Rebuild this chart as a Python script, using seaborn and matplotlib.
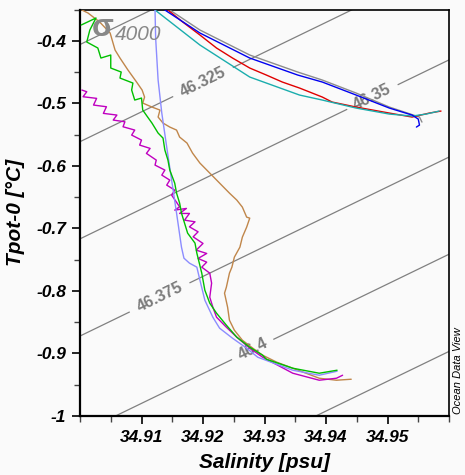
import numpy as np
import pandas as pd
import matplotlib
matplotlib.use("Agg")
import matplotlib.pyplot as plt
import seaborn as sns
from matplotlib.ticker import MultipleLocator, FuncFormatter

# ---------------- data ----------------
gray_S = [34.9146, 34.9195, 34.9276, 34.9354, 34.9394, 34.9449, 34.9503, 34.9552, 34.9556]
gray_T = [-0.3508, -0.3828, -0.4228, -0.4500, -0.4628, -0.4836, -0.5060, -0.5220, -0.5300]

red_S = [34.9143, 34.9167, 34.9195, 34.9222, 34.9248, 34.9276, 34.9303, 34.9329, 34.9357,
         34.9394, 34.9410, 34.9449, 34.9503, 34.9540, 34.9568, 34.9587]
red_T = [-0.3508, -0.3700, -0.3908, -0.4116, -0.4276, -0.4436, -0.4548, -0.4660, -0.4756,
         -0.4900, -0.4980, -0.5060, -0.5156, -0.5220, -0.5156, -0.5124]

cyan_S = [34.9122, 34.9195, 34.9276, 34.9357, 34.9394, 34.9449, 34.9503, 34.9540, 34.9563, 34.9584]
cyan_T = [-0.3508, -0.4068, -0.4580, -0.4868, -0.4948, -0.5076, -0.5172, -0.5204, -0.5172, -0.5124]

blue_S = [34.9138, 34.9195, 34.9276, 34.9354, 34.9394, 34.9449, 34.9503, 34.9540, 34.9550, 34.9552, 34.9547]
blue_T = [-0.3508, -0.3876, -0.4276, -0.4548, -0.4660, -0.4868, -0.5076, -0.5188, -0.5252, -0.5348, -0.5380]

brown_S = [34.9003, 34.9013, 34.9032, 34.9049, 34.9057, 34.9065, 34.9078, 34.9092, 34.9101, 34.9105,
           34.9102, 34.9117, 34.9130, 34.9127, 34.9135, 34.9146, 34.9157, 34.9162, 34.9174, 34.9183,
           34.9195, 34.9211, 34.9227, 34.9243, 34.9255, 34.9264, 34.9271, 34.9276, 34.9271, 34.9264,
           34.9260, 34.9251, 34.9247, 34.9243, 34.9238, 34.9235, 34.9240, 34.9243, 34.9251, 34.9264,
           34.9281, 34.9297, 34.9320, 34.9346, 34.9389, 34.9417, 34.9441]
brown_T = [-0.3508, -0.3556, -0.3700, -0.3876, -0.4148, -0.4276, -0.4468, -0.4660, -0.4788, -0.4900,
           -0.4996, -0.5060, -0.5108, -0.5220, -0.5316, -0.5380, -0.5428, -0.5540, -0.5636, -0.5796,
           -0.5956, -0.6116, -0.6276, -0.6436, -0.6548, -0.6660, -0.6820, -0.6836, -0.6980, -0.7140,
           -0.7300, -0.7460, -0.7620, -0.7716, -0.7940, -0.8036, -0.8260, -0.8468, -0.8628, -0.8788,
           -0.8916, -0.9028, -0.9140, -0.9236, -0.9396, -0.9428, -0.9412]

magenta_S = [34.9003, 34.9011, 34.9005, 34.9027, 34.9022, 34.9043, 34.9038, 34.9060, 34.9054, 34.9073,
             34.9070, 34.9089, 34.9084, 34.9100, 34.9097, 34.9114, 34.9108, 34.9124, 34.9122, 34.9138,
             34.9133, 34.9146, 34.9141, 34.9154, 34.9149, 34.9162, 34.9154, 34.9173, 34.9162, 34.9178,
             34.9170, 34.9187, 34.9178, 34.9192, 34.9184, 34.9200, 34.9189, 34.9206, 34.9192, 34.9206,
             34.9198, 34.9211, 34.9214, 34.9211, 34.9216, 34.9222, 34.9238, 34.9255, 34.9276, 34.9297,
             34.9346, 34.9389, 34.9417, 34.9427]
magenta_T = [-0.4788, -0.4815, -0.4895, -0.4921, -0.5028, -0.5055, -0.5161, -0.5188, -0.5268, -0.5295,
             -0.5375, -0.5428, -0.5508, -0.5588, -0.5668, -0.5721, -0.5801, -0.5908, -0.5988, -0.6068,
             -0.6148, -0.6228, -0.6308, -0.6388, -0.6468, -0.6655, -0.6708, -0.6681, -0.6761, -0.6761,
             -0.6868, -0.6895, -0.6975, -0.7055, -0.7135, -0.7241, -0.7348, -0.7401, -0.7481, -0.7540,
             -0.7620, -0.7716, -0.7876, -0.8100, -0.8260, -0.8420, -0.8580, -0.8740, -0.8916, -0.9060,
             -0.9316, -0.9428, -0.9396, -0.9348]

green_S = [34.9002, 34.9026, 34.9016, 34.9011, 34.9029, 34.9034, 34.9050, 34.9050, 34.9067, 34.9065,
           34.9086, 34.9084, 34.9089, 34.9100, 34.9102, 34.9110, 34.9117, 34.9122, 34.9127, 34.9135,
           34.9138, 34.9143, 34.9146, 34.9154, 34.9157, 34.9162, 34.9165, 34.9170, 34.9175, 34.9187,
           34.9190, 34.9198, 34.9203, 34.9211, 34.9222, 34.9238, 34.9255, 34.9276, 34.9297, 34.9303,
           34.9346, 34.9389, 34.9418]
green_T = [-0.3748, -0.3636, -0.3828, -0.4020, -0.4116, -0.4276, -0.4228, -0.4436, -0.4500, -0.4596,
           -0.4676, -0.4788, -0.4948, -0.4916, -0.5108, -0.5220, -0.5316, -0.5396, -0.5476, -0.5556,
           -0.5748, -0.5908, -0.6068, -0.6276, -0.6436, -0.6596, -0.6756, -0.6916, -0.7076, -0.7236,
           -0.7396, -0.7716, -0.7988, -0.8196, -0.8356, -0.8548, -0.8740, -0.8900, -0.9028, -0.9092,
           -0.9236, -0.9316, -0.9268]

lav_S = [34.9122, 34.9123, 34.9127, 34.9133, 34.9141, 34.9149, 34.9157, 34.9165, 34.9169, 34.9178,
         34.9190, 34.9195, 34.9203, 34.9216, 34.9227, 34.9248, 34.9271, 34.9289, 34.9346, 34.9389, 34.9418]
lav_T = [-0.3508, -0.3956, -0.4628, -0.5156, -0.5700, -0.6228, -0.6756, -0.7300, -0.7476, -0.7556,
         -0.7620, -0.7828, -0.8148, -0.8420, -0.8596, -0.8756, -0.8916, -0.9060, -0.9268, -0.9348, -0.9284]

profiles = ["gray", "red", "cyan", "blue", "brown", "magenta", "lavender", "green"]
series = {"gray": (gray_S, gray_T), "red": (red_S, red_T), "cyan": (cyan_S, cyan_T),
          "blue": (blue_S, blue_T), "brown": (brown_S, brown_T), "magenta": (magenta_S, magenta_T),
          "green": (green_S, green_T), "lavender": (lav_S, lav_T)}
colors = {"gray": "#8c8c8c", "red": "#e00000", "cyan": "#1aadad", "blue": "#0000f0",
          "brown": "#c0864a", "magenta": "#c000c0", "green": "#00c000", "lavender": "#8c8cff"}

# sigma-4000 isopycnals (linearised equation of state fitted to the reference)
SIG_REF, S_REF, T_REF = 46.3, 34.90, -0.406
DSIG_DS, DSIG_DT = 0.7674, 0.1609
plain_levels = [46.3, 46.425]
labeled_levels = [46.325, 46.35, 46.375, 46.4]
label_pos = [(34.9200, -0.466), (34.9475, -0.489), (34.9130, -0.8115), (34.9281, -0.894)]

x_ticks = [34.91, 34.92, 34.93, 34.94, 34.95]
y_ticks = [-1.0, -0.9, -0.8, -0.7, -0.6, -0.5, -0.4]

# ---------------- figure ----------------
sns.set_theme(style="ticks")
plt.rcParams["font.family"] = ["Liberation Sans", "DejaVu Sans"]
plt.rcParams["axes.unicode_minus"] = False

bg = "#fafafa"
fig = plt.figure(figsize=(4.65, 4.75), dpi=100, facecolor=bg)
ax = fig.add_axes([80 / 465, 1 - 416 / 475, (449 - 80) / 465, (416 - 9.5) / 475])
ax.set_facecolor(bg)

sg = np.linspace(34.895, 34.965, 80)
tg = np.linspace(-1.05, -0.30, 80)
SS, TT = np.meshgrid(sg, tg)
SIG = SIG_REF + DSIG_DS * (SS - S_REF) - DSIG_DT * (TT - T_REF)
ax.contour(SS, TT, SIG, levels=plain_levels, colors="#808080", linewidths=0.9, zorder=1)
cs = ax.contour(SS, TT, SIG, levels=labeled_levels, colors="#808080", linewidths=0.9, zorder=1)
cl = ax.clabel(cs, manual=label_pos, fmt=lambda v: f"{v:g}",
               fontsize=11.5, inline=True, inline_spacing=4)
for t in cl:
    t.set_fontweight("bold")
    t.set_color("#7c7c7c")

rows = []
for p in profiles:
    s, t = series[p]
    for i, (a, b) in enumerate(zip(s, t)):
        rows.append({"profile": p, "order": i, "S": a, "T": b})
df = pd.DataFrame(rows)
sns.lineplot(data=df, x="S", y="T", hue="profile", hue_order=profiles, palette=colors,
             sort=False, estimator=None, units="profile", linewidth=1.0, legend=False, ax=ax, zorder=3)

ax.set_xlim(34.90, 34.96)
ax.set_ylim(-1.0, -0.35)
ax.set_xticks(x_ticks)
ax.set_yticks(y_ticks)
ax.xaxis.set_minor_locator(MultipleLocator(0.005))
ax.yaxis.set_minor_locator(MultipleLocator(0.05))
ax.xaxis.set_major_formatter(FuncFormatter(lambda v, p: f"{v:.2f}"))
ax.yaxis.set_major_formatter(FuncFormatter(lambda v, p: f"{v:g}"))
ax.tick_params(axis="both", which="major", direction="out", length=6, width=1.2, color="black",
               labelsize=12.5, pad=4, labelcolor="black")
ax.tick_params(axis="both", which="minor", direction="out", length=4, width=1.0, color="#444444")
for lab in ax.get_xticklabels() + ax.get_yticklabels():
    lab.set_fontweight("bold")
    lab.set_fontstyle("italic")

for side in ["left", "bottom"]:
    ax.spines[side].set_linewidth(1.6)
    ax.spines[side].set_color("black")
for side in ["top", "right"]:
    ax.spines[side].set_linewidth(1.2)
    ax.spines[side].set_color("black")

ax.set_xlabel("Salinity [psu]", fontsize=15, fontweight="bold", fontstyle="italic", labelpad=6, color="black")
ax.set_ylabel("Tpot-0 [°C]", fontsize=15, fontweight="bold", fontstyle="italic", labelpad=8, color="black")

ax.text(0.033, 0.934, "σ", transform=ax.transAxes, fontsize=23, fontweight="bold",
        color="#888888", va="baseline", ha="left", zorder=5)
ax.text(0.094, 0.925, "4000", transform=ax.transAxes, fontsize=15, fontstyle="italic",
        color="#888888", va="baseline", ha="left", zorder=5)

fig.text(458 / 465, 1 - 371 / 475, "Ocean Data View", rotation=90, fontsize=8,
         fontstyle="italic", ha="center", va="center", color="black")

fig.savefig("out.png", dpi=100, facecolor=bg)
